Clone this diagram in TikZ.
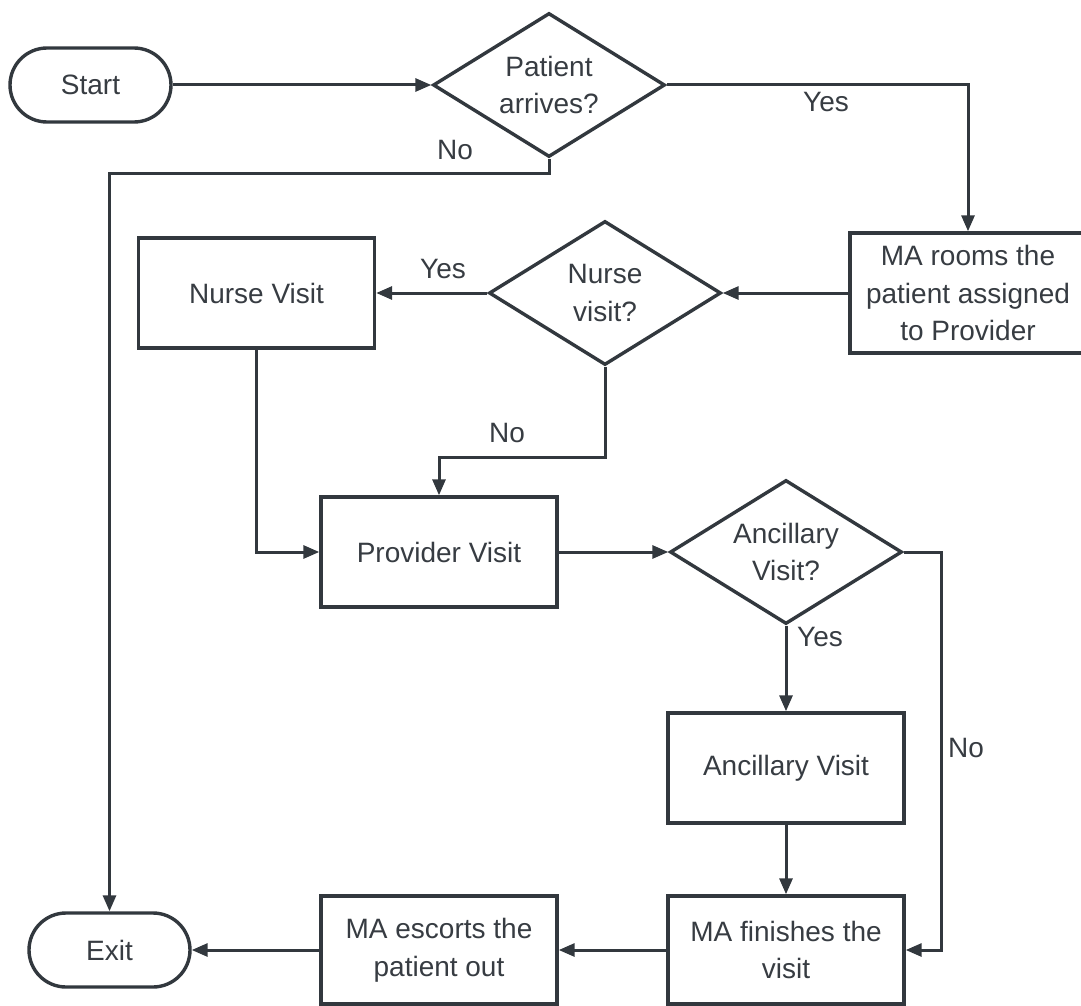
\documentclass[tikz,border=0pt]{standalone}
\usepackage{fontspec}
\setmainfont{Liberation Sans}
\usetikzlibrary{shapes.geometric,arrows.meta}
\definecolor{ln}{RGB}{50,56,62}
\definecolor{tx}{RGB}{55,60,66}
\begin{document}
\begin{tikzpicture}[x=1pt,y=-1pt,
  every node/.style={font=\fontsize{28}{37.5}\selectfont, text=tx, align=center},
  box/.style={draw=ln, line width=3.4pt, fill=white, minimum width=236pt, minimum height=110pt, inner sep=0pt},
  term/.style={draw=ln, line width=3.4pt, fill=white, rounded corners=37pt, minimum width=161pt, minimum height=74pt, inner sep=0pt},
  dia/.style={draw=ln, line width=3.4pt, fill=white, diamond, minimum width=232pt, minimum height=144pt, inner sep=0pt},
  arr/.style={draw=ln, line width=3pt, -{Triangle[length=16pt,width=13pt]}},
  lab/.style={inner sep=0pt}
]
\useasboundingbox (0,0) rectangle (1081,1006);

% nodes
\node[term] (start) at (90.5,85) {Start};
\node[dia] (p) at (549,85) {};
\node (ptext) at (p.center) {Patient\\arrives?};
\node[box, minimum height=120pt] (ma) at (968,293) {MA rooms the\\patient assigned\\to Provider};
\node[dia] (nd) at (605,293) {};
\node (ndtext) at (nd.center) {Nurse\\visit?};
\node[box] (nv) at (256.5,293) {Nurse Visit};
\node[box] (pv) at (439,552) {Provider Visit};
\node[dia] (ad) at (786,552) {};
\node (adtext) at (ad.center) {Ancillary\\Visit?};
\node[box] (av) at (786,768) {Ancillary Visit};
\node[box, minimum height=108pt] (fin) at (786,950) {MA finishes the\\visit};
\node[box, minimum height=108pt] (esc) at (439,950) {MA escorts the\\patient out};
\node[term] (exit) at (109.5,950) {Exit};

% labels
\node[lab] (l1) at (455,150) {No};
\node[lab] (l2) at (826,102) {Yes};
\node[lab] (l3) at (443,269) {Yes};
\node[lab] (l4) at (507,433) {No};
\node[lab] (l5) at (820,637) {Yes};
\node[lab] (l6) at (966,748) {No};

% helper coordinates
\coordinate (c1) at (0,173);
\coordinate (c2) at (0,457);
\coordinate (c3) at (941,0);

% connectors
\draw[arr] (start.east) -- (p.west);
\draw[arr] (p.south) -- (p.south |- c1) -| (exit.north);
\draw[arr] (p.east) -| (ma.north);
\draw[arr] (ma.west) -- (nd.east);
\draw[arr] (nd.west) -- (nv.east);
\draw[arr] (nv.south) |- (pv.west);
\draw[arr] (nd.south) -- (nd.south |- c2) -| (pv.north);
\draw[arr] (pv.east) -- (ad.west);
\draw[arr] (ad.east) -- (ad.east -| c3) |- (fin.east);
\draw[arr] (ad.south) -- (av.north);
\draw[arr] (av.south) -- (fin.north);
\draw[arr] (fin.west) -- (esc.east);
\draw[arr] (esc.west) -- (exit.east);
\end{tikzpicture}
\end{document}
